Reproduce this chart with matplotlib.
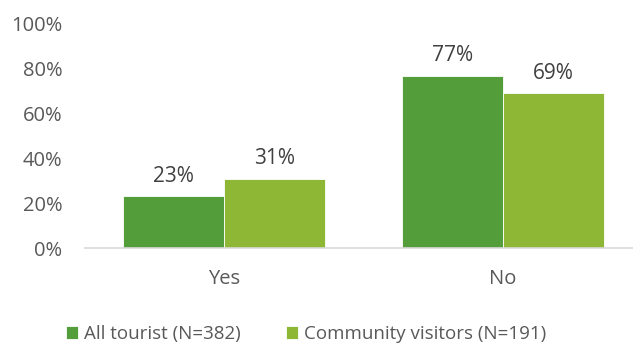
import numpy as np
import matplotlib.pyplot as plt

# survey answers, share of respondents per group
categories = ['Yes', 'No']
all_tourist = [23, 77]
community_visitors = [31, 69]
series_names = ['All tourist (N=382)', 'Community visitors (N=191)']
yticks = [0, 20, 40, 60, 80, 100]

plt.rcParams['font.family'] = ['Open Sans', 'DejaVu Sans']

dark_green = '#539e3a'
light_green = '#8db734'
tick_color = '#595959'

fig = plt.figure(figsize=(6.33, 3.44), dpi=100)
ax = fig.add_axes([84.5 / 633, 96 / 344, 558 / 633, 224 / 344])

x = np.arange(len(categories))
width = 0.363
b1 = ax.bar(x - width / 2, all_tourist, width, color=dark_green,
            edgecolor='white', linewidth=0.6, label=series_names[0])
b2 = ax.bar(x + width / 2, community_visitors, width, color=light_green,
            edgecolor='white', linewidth=0.6, label=series_names[1])

for bars in (b1, b2):
    for rect in bars:
        h = rect.get_height()
        ax.annotate(f'{h:.0f}%', (rect.get_x() + rect.get_width() / 2, h),
                    xytext=(0, 7), textcoords='offset points',
                    ha='center', va='bottom', fontsize=15, color='#404040')

ax.set_xlim(-0.5, 1.5)
ax.set_ylim(0, 100)
ax.set_yticks(yticks)
ax.set_yticklabels([f'{t}%' for t in yticks])
ax.set_xticks(x)
ax.set_xticklabels(categories)
ax.tick_params(axis='both', length=0, labelsize=14.5, colors=tick_color)
ax.tick_params(axis='y', pad=16)
ax.tick_params(axis='x', pad=15)

for side in ('top', 'right', 'left'):
    ax.spines[side].set_visible(False)
ax.spines['bottom'].set_color('#d9d9d9')
ax.spines['bottom'].set_linewidth(1.2)

fig.legend(handles=[b1, b2], loc='center', bbox_to_anchor=(306 / 633, 10 / 344),
           ncol=2, frameon=False, fontsize=13.5, handlelength=0.65,
           handleheight=0.65, handletextpad=0.3, columnspacing=2.4,
           labelcolor=tick_color)

fig.savefig('out.png', dpi=100)
